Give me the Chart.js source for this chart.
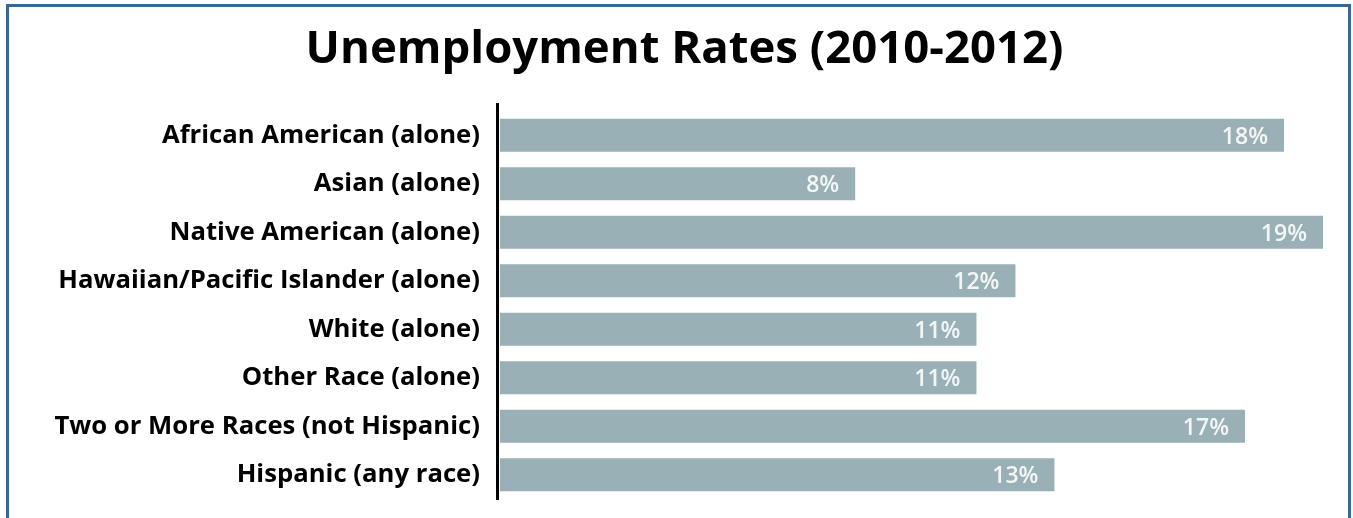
<!DOCTYPE html>
<html>
<head>
<meta charset="utf-8">
<script src="https://cdn.jsdelivr.net/npm/chart.js@4.4.1/dist/chart.umd.min.js"></script>
<style>
  html, body { margin: 0; padding: 0; background: #ffffff; overflow: hidden; }
  #frame { position: absolute; left: 6px; top: 4px; width: 1339px; height: 700px;
           border: 3px solid #3a6598; border-bottom: none; }
  #wrap { position: absolute; left: 0; top: 0; width: 1353px; height: 518px; }
</style>
</head>
<body>
<div id="frame"></div>
<div id="wrap"><canvas id="c" width="1353" height="518"></canvas></div>
<script>
const titleText = 'Unemployment Rates (2010-2012)';
const categories = [
  'African American (alone)',
  'Asian (alone)',
  'Native American (alone)',
  'Hawaiian/Pacific Islander (alone)',
  'White (alone)',
  'Other Race (alone)',
  'Two or More Races (not Hispanic)',
  'Hispanic (any race)'
];
const rates = [18.1, 8.2, 19.0, 11.9, 11.0, 11.0, 17.2, 12.8];
const rateLabels = ['18%', '8%', '19%', '12%', '11%', '11%', '17%', '13%'];
const axisMax = 19;

const FONT = '"Open Sans", "DejaVu Sans", sans-serif';

const valueLabelPlugin = {
  id: 'valueLabels',
  afterDatasetsDraw(chart) {
    const ctx = chart.ctx;
    const meta = chart.getDatasetMeta(0);
    ctx.save();
    ctx.font = '600 23px ' + FONT;
    ctx.fillStyle = '#f4f6f6';
    ctx.textAlign = 'right';
    ctx.textBaseline = 'middle';
    meta.data.forEach((bar, i) => {
      ctx.fillText(rateLabels[i], bar.x - 16, bar.y + 2);
    });
    ctx.restore();
  }
};

const axisLinePlugin = {
  id: 'axisLine',
  afterDatasetsDraw(chart) {
    const a = chart.chartArea;
    const ctx = chart.ctx;
    ctx.save();
    ctx.strokeStyle = '#000000';
    ctx.lineWidth = 3;
    ctx.beginPath();
    ctx.moveTo(a.left - 2.5, a.top - 8);
    ctx.lineTo(a.left - 2.5, a.bottom + 1);
    ctx.stroke();
    ctx.restore();
  }
};

new Chart(document.getElementById('c'), {
  type: 'bar',
  data: {
    labels: categories,
    datasets: [{
      data: rates,
      backgroundColor: '#99b1b6',
      borderWidth: 0,
      categoryPercentage: 1,
      barPercentage: 0.68
    }]
  },
  options: {
    indexAxis: 'y',
    responsive: false,
    animation: false,
    layout: { padding: { left: 46, right: 30, top: 0, bottom: 19 } },
    plugins: {
      legend: { display: false },
      tooltip: { enabled: false },
      title: {
        display: true,
        text: titleText,
        color: '#000000',
        font: { family: FONT, size: 45.5, weight: '700', lineHeight: 1.2 },
        padding: { top: 23, bottom: 33.4 }
      }
    },
    scales: {
      x: { display: false, min: 0, max: axisMax },
      y: {
        afterFit(scale) {
          scale.width = 454;
          scale.paddingTop = 0;
          scale.paddingBottom = 0;
        },
        grid: { display: false, drawTicks: false },
        border: { display: false },
        ticks: {
          color: '#000000',
          padding: 20,
          font: { family: FONT, size: 25.7, weight: '700' }
        }
      }
    }
  },
  plugins: [valueLabelPlugin, axisLinePlugin]
});
</script>
</body>
</html>
